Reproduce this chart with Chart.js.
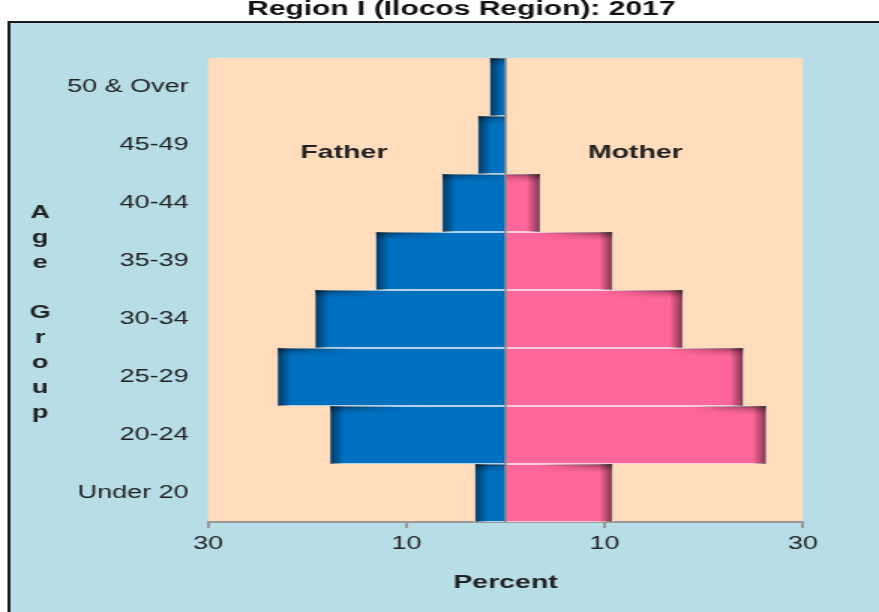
<!DOCTYPE html>
<html>
<head>
<meta charset="utf-8">
<script src="https://cdn.jsdelivr.net/npm/chart.js@4.4.0/dist/chart.umd.min.js"></script>
<style>
  body { margin: 0; background: #fff; overflow: hidden; }
  /* the reference is stretched sideways, so draw narrow and widen it */
  #wrap { width: 586px; height: 612px; transform: scaleX(1.5); transform-origin: 0 0; }
</style>
</head>
<body>
<div id="wrap"><canvas id="myChart" width="586" height="612"></canvas></div>
<script>
const ageGroups = ['50 & Over', '45-49', '40-44', '35-39', '30-34', '25-29', '20-24', 'Under 20'];
const fatherPct = [1.6, 2.8, 6.4, 13.1, 19.2, 23.0, 17.7, 3.1];
const motherPct = [0, 0, 3.5, 10.8, 17.9, 24.0, 26.3, 10.8];
const xTicks = [-30, -10, 10, 30];
const titleText = 'Region I (Ilocos Region): 2017';

const decor = {
  id: 'decor',
  beforeDraw(chart) {
    const c = chart.ctx, a = chart.chartArea;
    c.save();
    c.fillStyle = '#fff';
    c.fillRect(0, 0, chart.width, chart.height);
    c.fillStyle = '#b7dde7';
    c.fillRect(6, 22, chart.width, chart.height);
    c.strokeStyle = '#1a1a1a';
    c.lineWidth = 2;
    c.strokeRect(6, 22, chart.width + 10, chart.height + 10);
    c.fillStyle = '#fedcbc';
    c.fillRect(a.left, a.top, a.right - a.left, a.bottom - a.top);
    c.fillStyle = '#111';
    c.font = 'bold 20px Arial, "Liberation Sans"';
    c.textAlign = 'center';
    c.textBaseline = 'alphabetic';
    c.fillText(titleText, 307.5, 15);
    c.restore();
  },
  afterDatasetsDraw(chart) {
    const c = chart.ctx;
    const xs = chart.scales.x, ys = chart.scales.y;
    c.save();
    chart.data.datasets.forEach((ds, di) => {
      const left = di === 0;
      chart.getDatasetMeta(di).data.forEach(bar => {
        const x0 = Math.min(bar.x, bar.base), x1 = Math.max(bar.x, bar.base);
        const w = x1 - x0;
        if (w < 1) return;
        const top = bar.y - bar.height / 2, h = bar.height;
        c.save();
        c.beginPath();
        c.rect(x0, top, w, h);
        c.clip();
        // outer edge shadow
        const ex = left ? x0 : x1;
        const g = c.createLinearGradient(ex, 0, left ? ex + 9 : ex - 9, 0);
        g.addColorStop(0, 'rgba(0,0,0,0.5)');
        g.addColorStop(1, 'rgba(0,0,0,0)');
        c.fillStyle = g;
        c.fillRect(left ? x0 : x1 - 9, top, 9, h);
        // top shadow near the outer corner
        const gt = c.createLinearGradient(ex, 0, left ? ex + 50 : ex - 50, 0);
        gt.addColorStop(0, 'rgba(0,0,0,0.5)');
        gt.addColorStop(1, 'rgba(0,0,0,0)');
        c.fillStyle = gt;
        for (let r = 0; r < 10; r++) {
          c.globalAlpha = Math.pow(1 - r / 10, 2);
          c.fillRect(x0, top + r, w, 1);
        }
        c.restore();
      });
    });
    // zero line
    const zx = xs.getPixelForValue(0);
    c.strokeStyle = '#8a8a8a';
    c.lineWidth = 1.5;
    c.beginPath();
    c.moveTo(zx, chart.chartArea.top);
    c.lineTo(zx, chart.chartArea.bottom);
    c.stroke();
    // sex labels
    c.fillStyle = '#222';
    c.font = 'bold 19px Arial, "Liberation Sans"';
    c.textAlign = 'center';
    c.textBaseline = 'middle';
    const ly = ys.getPixelForValue(1) + 8;
    c.fillText('Father', xs.getPixelForValue(-16.3), ly);
    c.fillText('Mother', xs.getPixelForValue(13.1), ly);
    // vertical axis title, one letter per line
    c.font = 'bold 18px Arial, "Liberation Sans"';
    c.textBaseline = 'alphabetic';
    'Age Group'.split('').forEach((ch, i) => {
      if (ch !== ' ') c.fillText(ch, 26.7, 218 + i * 25);
    });
    c.restore();
  }
};

const ctx = document.getElementById('myChart').getContext('2d');
const myChart = new Chart(ctx, {
  type: 'bar',
  data: {
    labels: ageGroups,
    datasets: [
      {
        label: 'Father',
        data: fatherPct.map(v => -v),
        backgroundColor: '#0070c0',
        borderColor: '#eef2f4',
        borderWidth: 1
      },
      {
        label: 'Mother',
        data: motherPct,
        backgroundColor: '#ff6699',
        borderColor: '#f6eef0',
        borderWidth: 1
      }
    ]
  },
  options: {
    indexAxis: 'y',
    responsive: false,
    animation: false,
    barPercentage: 1,
    categoryPercentage: 1,
    layout: { padding: { top: 58, right: 50.7, left: 0, bottom: 0 } },
    plugins: {
      legend: { display: false },
      tooltip: { enabled: false }
    },
    scales: {
      x: {
        stacked: true,
        min: -30,
        max: 30,
        afterBuildTicks: s => { s.ticks = xTicks.map(v => ({ value: v })); },
        afterFit: s => { s.height = 90; },
        ticks: {
          callback: v => Math.abs(v),
          color: '#222',
          font: { family: 'Arial, "Liberation Sans"', size: 18 },
          padding: 5,
          maxRotation: 0
        },
        grid: { drawOnChartArea: false, color: '#999', tickLength: 6, lineWidth: 2 },
        border: { display: true, color: '#999', width: 2 },
        title: {
          display: true,
          text: 'Percent',
          color: '#222',
          font: { family: 'Arial, "Liberation Sans"', size: 19, weight: 'bold' },
          padding: { top: 0, bottom: 18 }
        }
      },
      y: {
        stacked: true,
        afterFit: s => { s.width = 138.7; },
        ticks: {
          color: '#222',
          font: { family: 'Arial, "Liberation Sans"', size: 18 },
          padding: 13
        },
        grid: { display: false, drawTicks: false },
        border: { display: false }
      }
    }
  },
  plugins: [decor]
});
</script>
</body>
</html>
